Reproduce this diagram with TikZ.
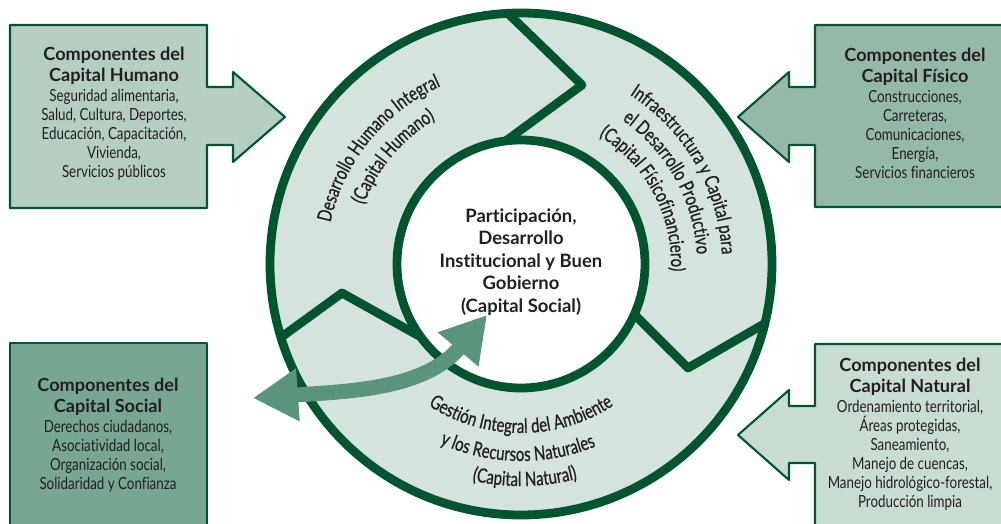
\documentclass[tikz,border=0pt]{standalone}
\usepackage{fontspec}
\setmainfont{Lato}[Ligatures=NoCommon]
\newfontfamily\condfont[FakeStretch=0.8, Ligatures=NoCommon]{Lato}
\newfontfamily\ringfont[FakeStretch=0.76, FakeBold=0.6, Ligatures=NoCommon]{Lato}
\usetikzlibrary{positioning,calc,arrows.meta,decorations.text}
\definecolor{dkgreen}{RGB}{0,84,48}
\definecolor{ringfill}{RGB}{212,227,219}
\definecolor{humfill}{RGB}{180,206,193}
\definecolor{fisfill}{RGB}{149,185,168}
\definecolor{socfill}{RGB}{119,167,146}
\definecolor{natfill}{RGB}{200,220,210}
\definecolor{arrowfill}{RGB}{90,148,124}
\definecolor{txt}{RGB}{35,31,32}

\begin{document}
\begin{tikzpicture}[x=0.02cm, y=0.02cm, line join=round]
	\def \Rout{251}
	\def \Rin{124}
	\tikzstyle{t-node}=[font=\bfseries\fontsize{10.3}{11.9}\selectfont, text=txt, align=center, inner sep=0pt]
	\tikzstyle{b-node}=[font=\condfont\fontsize{9.5}{10.8}\selectfont, text=txt, align=center, inner sep=0pt]
	\tikzstyle{c-node}=[font=\bfseries\fontsize{10.5}{12.8}\selectfont, text=txt, align=center, inner sep=0pt]
	\tikzstyle{box}=[draw=dkgreen, line width=1.2pt]
	\tikzstyle{ring}=[draw=dkgreen, line width=5pt]
	\tikzstyle{dblarrow}=[draw=arrowfill, line width=0.3cm, {Triangle[length=0.9cm,width=1cm]}-{Triangle[length=0.9cm,width=1cm]}]
	\tikzset{ringtxt/.style={decorate, decoration={text along path, text align=center,
		text={|\ringfont\fontsize{11.2}{12}\selectfont\color{txt}|#1}}}}
	\useasboundingbox (0,0) rectangle (1001,524);
	\coordinate (C) at (521,260);

	% ring
	\fill[ringfill] (C) circle[radius=\Rout];
	\fill[white] (C) circle[radius=\Rin];
	\draw[ring] (C) circle[radius=\Rout];
	\draw[ring] (C) circle[radius=\Rin];
	\draw[ring] ($(C)+(93:\Rout)$) -- ($(C)+(61,179)$) -- ($(C)+(97:\Rin)$);
	\draw[ring] ($(C)+(-24:\Rin)$) -- ($(C)+(167,-104)$) -- ($(C)+(-13.7:\Rout)$);
	\draw[ring] ($(C)+(197:\Rout)$) -- ($(C)+(-179,-29)$) -- ($(C)+(216:\Rin)$);

	% ring labels
	\path[ringtxt={Desarrollo Humano Integral}] ($(C)+(201:195)$) arc[start angle=201, end angle=81, radius=195];
	\path[ringtxt={(Capital Humano)}] ($(C)+(200:168)$) arc[start angle=200, end angle=80, radius=168];
	\path[ringtxt={Infraestructura y Capital para}] ($(C)+(90:201)$) arc[start angle=90, end angle=-30, radius=201];
	\path[ringtxt={el Desarrollo Productivo}] ($(C)+(89:176)$) arc[start angle=89, end angle=-31, radius=176];
	\path[ringtxt={(Capital Físicofinanciero)}] ($(C)+(88:150)$) arc[start angle=88, end angle=-32, radius=150];
	\path[ringtxt={Gestión Integral del Ambiente}] ($(C)+(210:169)$) arc[start angle=210, end angle=330, radius=169];
	\path[ringtxt={y los Recursos Naturales}] ($(C)+(209:197)$) arc[start angle=209, end angle=329, radius=197];
	\path[ringtxt={(Capital Natural)}] ($(C)+(211:222)$) arc[start angle=211, end angle=331, radius=222];

	% centre
	\node[c-node] (centro) at (521,262) {Participación,\\Desarrollo\\Institucional y Buen\\Gobierno\\(Capital Social)};

	% boxes
	\draw[box, fill=humfill] (10,316) -- (10,499) -- (207,499) -- (207,437) -- (233,437) -- (233,452)
		-- (285,407) -- (233,362) -- (233,379) -- (207,379) -- (207,316) -- cycle;
	\draw[box, fill=fisfill] (1010,499) -- (815,499) -- (815,437) -- (789,437) -- (789,452)
		-- (738,407) -- (789,362) -- (789,379) -- (815,379) -- (815,317) -- (1010,317) -- cycle;
	\draw[box, fill=socfill] (10,-10) rectangle (207,181);
	\draw[box, fill=natfill] (1010,180) -- (815,180) -- (815,118) -- (789,118) -- (789,134)
		-- (738,89) -- (789,44) -- (789,61) -- (815,61) -- (815,-10) -- (1010,-10) -- cycle;

	% box labels
	\node[t-node, anchor=north] (hum-t) at (114,477) {Componentes del\\Capital Humano};
	\node[b-node, below=0.076cm of hum-t] (hum-b) {Seguridad alimentaria,\\Salud, Cultura, Deportes,\\Educación, Capacitación,\\Vivienda,\\Servicios públicos};
	\node[t-node, anchor=north] (fis-t) at (915,476) {Componentes del\\Capital Físico};
	\node[b-node, below=0.076cm of fis-t] (fis-b) {Construcciones,\\Carreteras,\\Comunicaciones,\\Energía,\\Servicios financieros};
	\node[t-node, anchor=north] (soc-t) at (108,146) {Componentes del\\Capital Social};
	\node[b-node, below=0.076cm of soc-t] (soc-b) {Derechos ciudadanos,\\Asociatividad local,\\Organización social,\\Solidaridad y Confianza};
	\node[t-node, anchor=north] (nat-t) at (910,166) {Componentes del\\Capital Natural};
	\node[b-node, below=0.076cm of nat-t] (nat-b) {Ordenamiento territorial,\\Áreas protegidas,\\Saneamiento,\\Manejo de cuencas,\\Manejo hidrológico-forestal,\\Producción limpia};

	% double arrow
	\coordinate (al) at (253,126);
	\coordinate (ar) at (487,209);
	\draw[dblarrow] (al) to[out=4, in=230] (ar);
\end{tikzpicture}
\end{document}
